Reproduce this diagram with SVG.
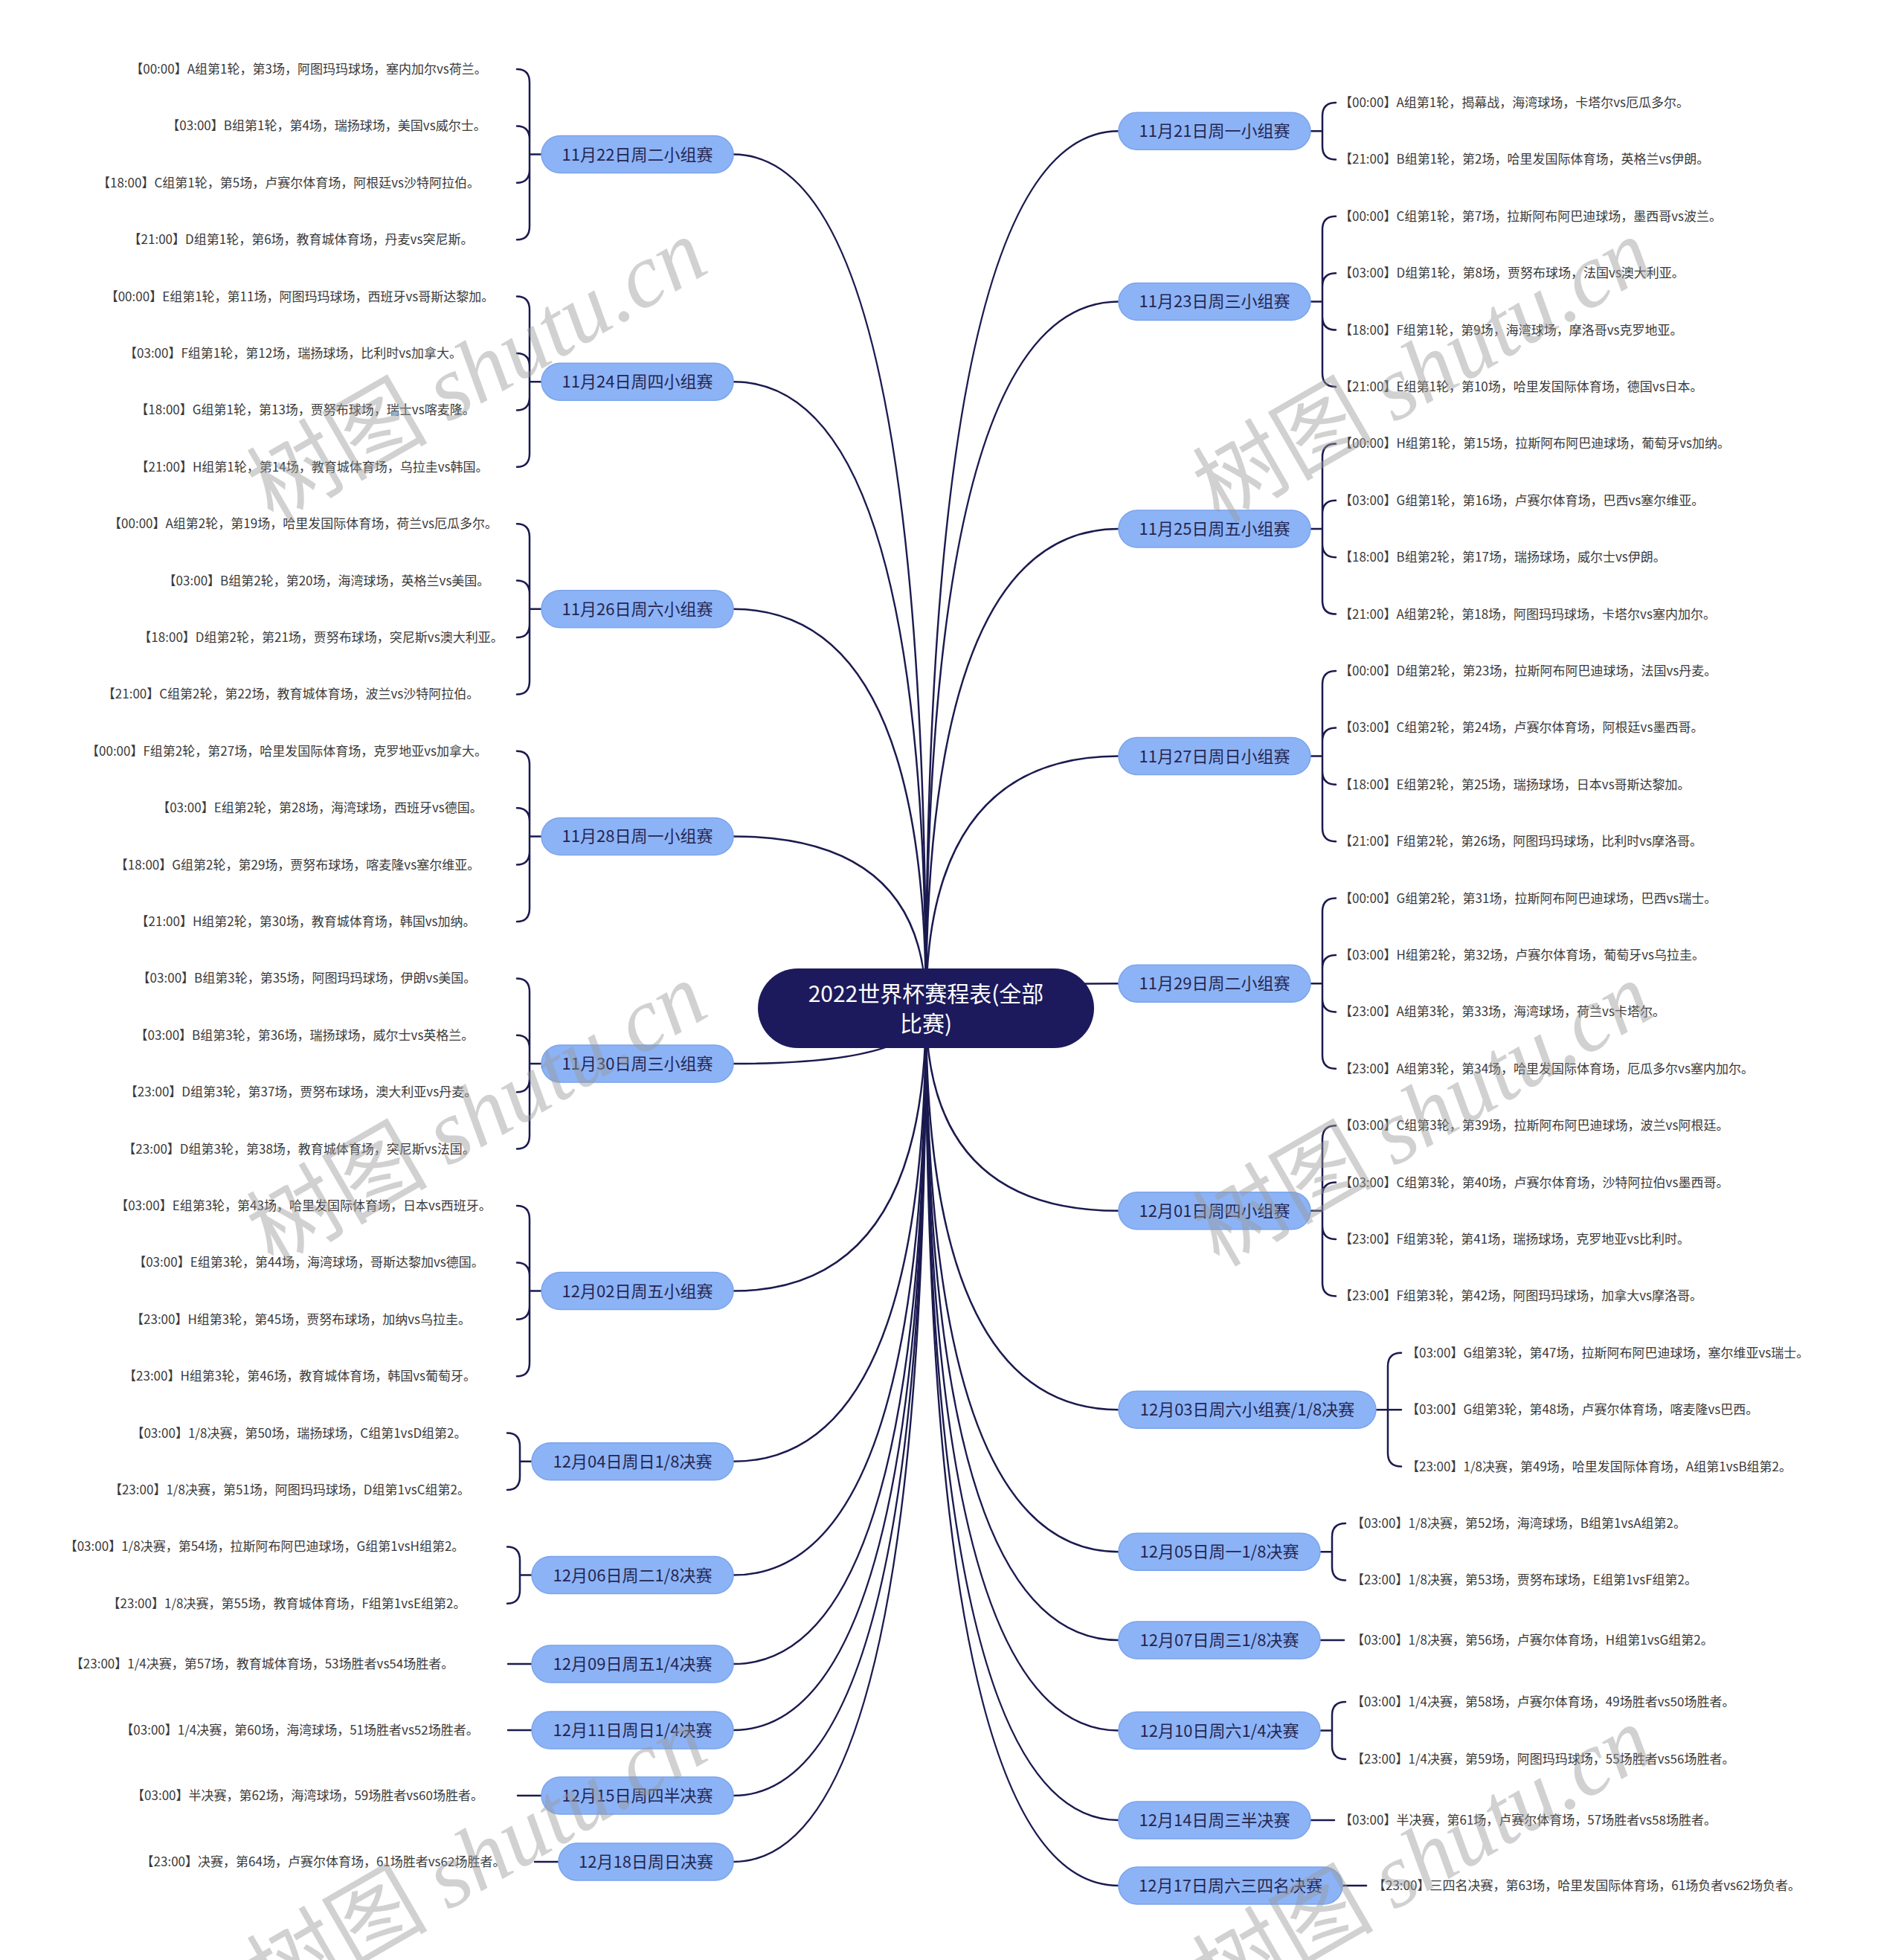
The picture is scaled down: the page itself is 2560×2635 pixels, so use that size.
<svg xmlns="http://www.w3.org/2000/svg" width="2560" height="2635" viewBox="0 0 2560 2635">
<style>
.c{fill:none;stroke:#1b1a4f;stroke-width:2.5;stroke-linecap:round}
.bn rect{fill:#8cb3f6;stroke:#7ba4ec;stroke-width:1.5}
.bn text{font-family:"Noto Sans CJK SC","Noto Sans",sans-serif;font-size:22px;fill:#262650;text-anchor:middle}
.lf text{font-family:"Noto Sans CJK SC","Noto Sans",sans-serif;font-size:17px;fill:#3a3a3a}
.ll text{text-anchor:middle}
.root rect{fill:#1c1a5c}
.root text{font-family:"Noto Sans CJK SC","Noto Sans",sans-serif;font-size:30px;fill:#ffffff;text-anchor:middle}
.wm{font-family:"Noto Sans CJK SC",sans-serif;font-size:122px;fill:#9a9a9a;fill-opacity:0.45;text-anchor:middle}
.wmi{font-family:"Liberation Serif",serif;font-style:italic}
</style>
<rect width="2560" height="2635" fill="#ffffff"/>
<g id="connectors">
<path class="c" d="M1245,1355Q1245,207.6 986,207.6"/>
<path class="c" d="M1245,1355Q1245,513.2 986,513.2"/>
<path class="c" d="M1245,1355Q1245,818.8 986,818.8"/>
<path class="c" d="M1245,1355Q1245,1124.4 986,1124.4"/>
<path class="c" d="M1245,1355Q1245,1430 986,1430"/>
<path class="c" d="M1245,1355Q1245,1735.6 986,1735.6"/>
<path class="c" d="M1245,1355Q1245,1964.8 986,1964.8"/>
<path class="c" d="M1245,1355Q1245,2117.6 986,2117.6"/>
<path class="c" d="M1245,1355Q1245,2237 986,2237"/>
<path class="c" d="M1245,1355Q1245,2326 986,2326"/>
<path class="c" d="M1245,1355Q1245,2414 986,2414"/>
<path class="c" d="M1245,1355Q1245,2503 986,2503"/>
<path class="c" d="M1245,1355Q1245,176.2 1504,176.2"/>
<path class="c" d="M1245,1355Q1245,405.4 1504,405.4"/>
<path class="c" d="M1245,1355Q1245,711 1504,711"/>
<path class="c" d="M1245,1355Q1245,1016.6 1504,1016.6"/>
<path class="c" d="M1245,1355Q1245,1322.2 1504,1322.2"/>
<path class="c" d="M1245,1355Q1245,1627.8 1504,1627.8"/>
<path class="c" d="M1245,1355Q1245,1895.2 1504,1895.2"/>
<path class="c" d="M1245,1355Q1245,2086.2 1504,2086.2"/>
<path class="c" d="M1245,1355Q1245,2205 1504,2205"/>
<path class="c" d="M1245,1355Q1245,2326.5 1504,2326.5"/>
<path class="c" d="M1245,1355Q1245,2447 1504,2447"/>
<path class="c" d="M1245,1355Q1245,2535 1504,2535"/>
<path class="c" d="M728,207.6H712M712,207.6V111Q712,93 695,93M712,207.6V187.4Q712,169.4 695,169.4M712,207.6V227.8Q712,245.8 695,245.8M712,207.6V304.2Q712,322.2 695,322.2"/>
<path class="c" d="M728,513.2H712M712,513.2V416.6Q712,398.6 695,398.6M712,513.2V493Q712,475 695,475M712,513.2V533.4Q712,551.4 695,551.4M712,513.2V609.8Q712,627.8 695,627.8"/>
<path class="c" d="M728,818.8H712M712,818.8V722.2Q712,704.2 695,704.2M712,818.8V798.6Q712,780.6 695,780.6M712,818.8V839Q712,857 695,857M712,818.8V915.4Q712,933.4 695,933.4"/>
<path class="c" d="M728,1124.4H712M712,1124.4V1027.8Q712,1009.8 695,1009.8M712,1124.4V1104.2Q712,1086.2 695,1086.2M712,1124.4V1144.6Q712,1162.6 695,1162.6M712,1124.4V1221Q712,1239 695,1239"/>
<path class="c" d="M728,1430H712M712,1430V1333.4Q712,1315.4 695,1315.4M712,1430V1409.8Q712,1391.8 695,1391.8M712,1430V1450.2Q712,1468.2 695,1468.2M712,1430V1526.6Q712,1544.6 695,1544.6"/>
<path class="c" d="M728,1735.6H712M712,1735.6V1639Q712,1621 695,1621M712,1735.6V1715.4Q712,1697.4 695,1697.4M712,1735.6V1755.8Q712,1773.8 695,1773.8M712,1735.6V1832.2Q712,1850.2 695,1850.2"/>
<path class="c" d="M715,1964.8H699M699,1964.8V1944.6Q699,1926.6 682,1926.6M699,1964.8V1985Q699,2003 682,2003"/>
<path class="c" d="M715,2117.6H699M699,2117.6V2097.4Q699,2079.4 682,2079.4M699,2117.6V2137.8Q699,2155.8 682,2155.8"/>
<path class="c" d="M683,2237H715"/>
<path class="c" d="M683,2326H715"/>
<path class="c" d="M696,2414H728"/>
<path class="c" d="M719,2503H751"/>
<path class="c" d="M1762,176.2H1778M1778,176.2V156Q1778,138 1796,138M1778,176.2V196.4Q1778,214.4 1796,214.4"/>
<path class="c" d="M1762,405.4H1778M1778,405.4V308.8Q1778,290.8 1796,290.8M1778,405.4V385.2Q1778,367.2 1796,367.2M1778,405.4V425.6Q1778,443.6 1796,443.6M1778,405.4V502Q1778,520 1796,520"/>
<path class="c" d="M1762,711H1778M1778,711V614.4Q1778,596.4 1796,596.4M1778,711V690.8Q1778,672.8 1796,672.8M1778,711V731.2Q1778,749.2 1796,749.2M1778,711V807.6Q1778,825.6 1796,825.6"/>
<path class="c" d="M1762,1016.6H1778M1778,1016.6V920Q1778,902 1796,902M1778,1016.6V996.4Q1778,978.4 1796,978.4M1778,1016.6V1036.8Q1778,1054.8 1796,1054.8M1778,1016.6V1113.2Q1778,1131.2 1796,1131.2"/>
<path class="c" d="M1762,1322.2H1778M1778,1322.2V1225.6Q1778,1207.6 1796,1207.6M1778,1322.2V1302Q1778,1284 1796,1284M1778,1322.2V1342.4Q1778,1360.4 1796,1360.4M1778,1322.2V1418.8Q1778,1436.8 1796,1436.8"/>
<path class="c" d="M1762,1627.8H1778M1778,1627.8V1531.2Q1778,1513.2 1796,1513.2M1778,1627.8V1607.6Q1778,1589.6 1796,1589.6M1778,1627.8V1648Q1778,1666 1796,1666M1778,1627.8V1724.4Q1778,1742.4 1796,1742.4"/>
<path class="c" d="M1850,1895.2H1884M1866,1895.2V1836.8Q1866,1818.8 1884,1818.8M1866,1895.2V1953.6Q1866,1971.6 1884,1971.6"/>
<path class="c" d="M1775,2086.2H1791M1791,2086.2V2066Q1791,2048 1809,2048M1791,2086.2V2106.4Q1791,2124.4 1809,2124.4"/>
<path class="c" d="M1775,2205H1807"/>
<path class="c" d="M1775,2326.5H1791M1791,2326.5V2306Q1791,2288 1809,2288M1791,2326.5V2347Q1791,2365 1809,2365"/>
<path class="c" d="M1762,2447H1794"/>
<path class="c" d="M1805,2535H1837"/>
</g>
<g id="root" class="root">
<rect x="1019" y="1302" width="452" height="107" rx="53.5"/>
<text x="1245" y="1347">2022世界杯赛程表(全部</text>
<text x="1245" y="1387">比赛)</text>
</g>
<g id="n-1122" class="bn"><rect x="728" y="182.6" width="258" height="50" rx="25"/><text x="857" y="215.6">11月22日周二小组赛</text></g>
<g id="n-1124" class="bn"><rect x="728" y="488.2" width="258" height="50" rx="25"/><text x="857" y="521.2">11月24日周四小组赛</text></g>
<g id="n-1126" class="bn"><rect x="728" y="793.8" width="258" height="50" rx="25"/><text x="857" y="826.8">11月26日周六小组赛</text></g>
<g id="n-1128" class="bn"><rect x="728" y="1099.4" width="258" height="50" rx="25"/><text x="857" y="1132.4">11月28日周一小组赛</text></g>
<g id="n-1130" class="bn"><rect x="728" y="1405" width="258" height="50" rx="25"/><text x="857" y="1438">11月30日周三小组赛</text></g>
<g id="n-1202" class="bn"><rect x="728" y="1710.6" width="258" height="50" rx="25"/><text x="857" y="1743.6">12月02日周五小组赛</text></g>
<g id="n-1204" class="bn"><rect x="715" y="1939.8" width="271" height="50" rx="25"/><text x="850.5" y="1972.8">12月04日周日1/8决赛</text></g>
<g id="n-1206" class="bn"><rect x="715" y="2092.6" width="271" height="50" rx="25"/><text x="850.5" y="2125.6">12月06日周二1/8决赛</text></g>
<g id="n-1209" class="bn"><rect x="715" y="2212" width="271" height="50" rx="25"/><text x="850.5" y="2245">12月09日周五1/4决赛</text></g>
<g id="n-1211" class="bn"><rect x="715" y="2301" width="271" height="50" rx="25"/><text x="850.5" y="2334">12月11日周日1/4决赛</text></g>
<g id="n-1215" class="bn"><rect x="728" y="2389" width="258" height="50" rx="25"/><text x="857" y="2422">12月15日周四半决赛</text></g>
<g id="n-1218" class="bn"><rect x="751" y="2478" width="235" height="50" rx="25"/><text x="868.5" y="2511">12月18日周日决赛</text></g>
<g id="n-1121" class="bn"><rect x="1504" y="151.2" width="258" height="50" rx="25"/><text x="1633" y="184.2">11月21日周一小组赛</text></g>
<g id="n-1123" class="bn"><rect x="1504" y="380.4" width="258" height="50" rx="25"/><text x="1633" y="413.4">11月23日周三小组赛</text></g>
<g id="n-1125" class="bn"><rect x="1504" y="686" width="258" height="50" rx="25"/><text x="1633" y="719">11月25日周五小组赛</text></g>
<g id="n-1127" class="bn"><rect x="1504" y="991.6" width="258" height="50" rx="25"/><text x="1633" y="1024.6">11月27日周日小组赛</text></g>
<g id="n-1129" class="bn"><rect x="1504" y="1297.2" width="258" height="50" rx="25"/><text x="1633" y="1330.2">11月29日周二小组赛</text></g>
<g id="n-1201" class="bn"><rect x="1504" y="1602.8" width="258" height="50" rx="25"/><text x="1633" y="1635.8">12月01日周四小组赛</text></g>
<g id="n-1203" class="bn"><rect x="1504" y="1870.2" width="346" height="50" rx="25"/><text x="1677" y="1903.2">12月03日周六小组赛/1/8决赛</text></g>
<g id="n-1205" class="bn"><rect x="1504" y="2061.2" width="271" height="50" rx="25"/><text x="1639.5" y="2094.2">12月05日周一1/8决赛</text></g>
<g id="n-1207" class="bn"><rect x="1504" y="2180" width="271" height="50" rx="25"/><text x="1639.5" y="2213">12月07日周三1/8决赛</text></g>
<g id="n-1210" class="bn"><rect x="1504" y="2301.5" width="271" height="50" rx="25"/><text x="1639.5" y="2334.5">12月10日周六1/4决赛</text></g>
<g id="n-1214" class="bn"><rect x="1504" y="2422" width="258" height="50" rx="25"/><text x="1633" y="2455">12月14日周三半决赛</text></g>
<g id="n-1217" class="bn"><rect x="1504" y="2510" width="301" height="50" rx="25"/><text x="1654.5" y="2543">12月17日周六三四名决赛</text></g>
<g class="lf ll">
<g id="m03"><text x="415" y="99">【00:00】A组第1轮，第3场，阿图玛玛球场，塞内加尔vs荷兰。</text></g>
<g id="m04"><text x="439" y="175.4">【03:00】B组第1轮，第4场，瑞扬球场，美国vs威尔士。</text></g>
<g id="m05"><text x="388" y="251.8">【18:00】C组第1轮，第5场，卢赛尔体育场，阿根廷vs沙特阿拉伯。</text></g>
<g id="m06"><text x="404.5" y="328.2">【21:00】D组第1轮，第6场，教育城体育场，丹麦vs突尼斯。</text></g>
<g id="m11"><text x="403" y="404.6">【00:00】E组第1轮，第11场，阿图玛玛球场，西班牙vs哥斯达黎加。</text></g>
<g id="m12"><text x="394" y="481">【03:00】F组第1轮，第12场，瑞扬球场，比利时vs加拿大。</text></g>
<g id="m13"><text x="410.5" y="557.4">【18:00】G组第1轮，第13场，贾努布球场，瑞士vs喀麦隆。</text></g>
<g id="m14"><text x="419.5" y="633.8">【21:00】H组第1轮，第14场，教育城体育场，乌拉圭vs韩国。</text></g>
<g id="m19"><text x="407.5" y="710.2">【00:00】A组第2轮，第19场，哈里发国际体育场，荷兰vs厄瓜多尔。</text></g>
<g id="m20"><text x="439" y="786.6">【03:00】B组第2轮，第20场，海湾球场，英格兰vs美国。</text></g>
<g id="m21"><text x="431.5" y="863">【18:00】D组第2轮，第21场，贾努布球场，突尼斯vs澳大利亚。</text></g>
<g id="m22"><text x="391" y="939.4">【21:00】C组第2轮，第22场，教育城体育场，波兰vs沙特阿拉伯。</text></g>
<g id="m27"><text x="385.5" y="1015.8">【00:00】F组第2轮，第27场，哈里发国际体育场，克罗地亚vs加拿大。</text></g>
<g id="m28"><text x="430" y="1092.2">【03:00】E组第2轮，第28场，海湾球场，西班牙vs德国。</text></g>
<g id="m29"><text x="400" y="1168.6">【18:00】G组第2轮，第29场，贾努布球场，喀麦隆vs塞尔维亚。</text></g>
<g id="m30"><text x="411" y="1245">【21:00】H组第2轮，第30场，教育城体育场，韩国vs加纳。</text></g>
<g id="m35"><text x="412.5" y="1321.4">【03:00】B组第3轮，第35场，阿图玛玛球场，伊朗vs美国。</text></g>
<g id="m36"><text x="409.5" y="1397.8">【03:00】B组第3轮，第36场，瑞扬球场，威尔士vs英格兰。</text></g>
<g id="m37"><text x="404.5" y="1474.2">【23:00】D组第3轮，第37场，贾努布球场，澳大利亚vs丹麦。</text></g>
<g id="m38"><text x="402" y="1550.6">【23:00】D组第3轮，第38场，教育城体育场，突尼斯vs法国。</text></g>
<g id="m43"><text x="408" y="1627">【03:00】E组第3轮，第43场，哈里发国际体育场，日本vs西班牙。</text></g>
<g id="m44"><text x="415" y="1703.4">【03:00】E组第3轮，第44场，海湾球场，哥斯达黎加vs德国。</text></g>
<g id="m45"><text x="404.5" y="1779.8">【23:00】H组第3轮，第45场，贾努布球场，加纳vs乌拉圭。</text></g>
<g id="m46"><text x="403" y="1856.2">【23:00】H组第3轮，第46场，教育城体育场，韩国vs葡萄牙。</text></g>
<g id="m50"><text x="402" y="1932.6">【03:00】1/8决赛，第50场，瑞扬球场，C组第1vsD组第2。</text></g>
<g id="m51"><text x="389.5" y="2009">【23:00】1/8决赛，第51场，阿图玛玛球场，D组第1vsC组第2。</text></g>
<g id="m54"><text x="355.5" y="2085.4">【03:00】1/8决赛，第54场，拉斯阿布阿巴迪球场，G组第1vsH组第2。</text></g>
<g id="m55"><text x="385.5" y="2161.8">【23:00】1/8决赛，第55场，教育城体育场，F组第1vsE组第2。</text></g>
<g id="m57"><text x="352.5" y="2243">【23:00】1/4决赛，第57场，教育城体育场，53场胜者vs54场胜者。</text></g>
<g id="m60"><text x="403" y="2332">【03:00】1/4决赛，第60场，海湾球场，51场胜者vs52场胜者。</text></g>
<g id="m62"><text x="413.5" y="2420">【03:00】半决赛，第62场，海湾球场，59场胜者vs60场胜者。</text></g>
<g id="m64"><text x="434.5" y="2509">【23:00】决赛，第64场，卢赛尔体育场，61场胜者vs62场胜者。</text></g>
</g>
<g class="lf">
<g id="m01"><text x="1801" y="144">【00:00】A组第1轮，揭幕战，海湾球场，卡塔尔vs厄瓜多尔。</text></g>
<g id="m02"><text x="1801" y="220.4">【21:00】B组第1轮，第2场，哈里发国际体育场，英格兰vs伊朗。</text></g>
<g id="m07"><text x="1801" y="296.8">【00:00】C组第1轮，第7场，拉斯阿布阿巴迪球场，墨西哥vs波兰。</text></g>
<g id="m08"><text x="1801" y="373.2">【03:00】D组第1轮，第8场，贾努布球场，法国vs澳大利亚。</text></g>
<g id="m09"><text x="1801" y="449.6">【18:00】F组第1轮，第9场，海湾球场，摩洛哥vs克罗地亚。</text></g>
<g id="m10"><text x="1801" y="526">【21:00】E组第1轮，第10场，哈里发国际体育场，德国vs日本。</text></g>
<g id="m15"><text x="1801" y="602.4">【00:00】H组第1轮，第15场，拉斯阿布阿巴迪球场，葡萄牙vs加纳。</text></g>
<g id="m16"><text x="1801" y="678.8">【03:00】G组第1轮，第16场，卢赛尔体育场，巴西vs塞尔维亚。</text></g>
<g id="m17"><text x="1801" y="755.2">【18:00】B组第2轮，第17场，瑞扬球场，威尔士vs伊朗。</text></g>
<g id="m18"><text x="1801" y="831.6">【21:00】A组第2轮，第18场，阿图玛玛球场，卡塔尔vs塞内加尔。</text></g>
<g id="m23"><text x="1801" y="908">【00:00】D组第2轮，第23场，拉斯阿布阿巴迪球场，法国vs丹麦。</text></g>
<g id="m24"><text x="1801" y="984.4">【03:00】C组第2轮，第24场，卢赛尔体育场，阿根廷vs墨西哥。</text></g>
<g id="m25"><text x="1801" y="1060.8">【18:00】E组第2轮，第25场，瑞扬球场，日本vs哥斯达黎加。</text></g>
<g id="m26"><text x="1801" y="1137.2">【21:00】F组第2轮，第26场，阿图玛玛球场，比利时vs摩洛哥。</text></g>
<g id="m31"><text x="1801" y="1213.6">【00:00】G组第2轮，第31场，拉斯阿布阿巴迪球场，巴西vs瑞士。</text></g>
<g id="m32"><text x="1801" y="1290">【03:00】H组第2轮，第32场，卢赛尔体育场，葡萄牙vs乌拉圭。</text></g>
<g id="m33"><text x="1801" y="1366.4">【23:00】A组第3轮，第33场，海湾球场，荷兰vs卡塔尔。</text></g>
<g id="m34"><text x="1801" y="1442.8">【23:00】A组第3轮，第34场，哈里发国际体育场，厄瓜多尔vs塞内加尔。</text></g>
<g id="m39"><text x="1801" y="1519.2">【03:00】C组第3轮，第39场，拉斯阿布阿巴迪球场，波兰vs阿根廷。</text></g>
<g id="m40"><text x="1801" y="1595.6">【03:00】C组第3轮，第40场，卢赛尔体育场，沙特阿拉伯vs墨西哥。</text></g>
<g id="m41"><text x="1801" y="1672">【23:00】F组第3轮，第41场，瑞扬球场，克罗地亚vs比利时。</text></g>
<g id="m42"><text x="1801" y="1748.4">【23:00】F组第3轮，第42场，阿图玛玛球场，加拿大vs摩洛哥。</text></g>
<g id="m47"><text x="1891" y="1824.8">【03:00】G组第3轮，第47场，拉斯阿布阿巴迪球场，塞尔维亚vs瑞士。</text></g>
<g id="m48"><text x="1891" y="1901.2">【03:00】G组第3轮，第48场，卢赛尔体育场，喀麦隆vs巴西。</text></g>
<g id="m49"><text x="1891" y="1977.6">【23:00】1/8决赛，第49场，哈里发国际体育场，A组第1vsB组第2。</text></g>
<g id="m52"><text x="1817" y="2054">【03:00】1/8决赛，第52场，海湾球场，B组第1vsA组第2。</text></g>
<g id="m53"><text x="1817" y="2130.4">【23:00】1/8决赛，第53场，贾努布球场，E组第1vsF组第2。</text></g>
<g id="m56"><text x="1817" y="2211">【03:00】1/8决赛，第56场，卢赛尔体育场，H组第1vsG组第2。</text></g>
<g id="m58"><text x="1817" y="2294">【03:00】1/4决赛，第58场，卢赛尔体育场，49场胜者vs50场胜者。</text></g>
<g id="m59"><text x="1817" y="2371">【23:00】1/4决赛，第59场，阿图玛玛球场，55场胜者vs56场胜者。</text></g>
<g id="m61"><text x="1801" y="2453">【03:00】半决赛，第61场，卢赛尔体育场，57场胜者vs58场胜者。</text></g>
<g id="m63"><text x="1846" y="2541">【23:00】三四名决赛，第63场，哈里发国际体育场，61场负者vs62场负者。</text></g>
</g>
<g id="watermarks">
<text class="wm" x="662" y="534" transform="rotate(-30 662 534)">树图 <tspan class="wmi">shutu.cn</tspan></text>
<text class="wm" x="1934" y="534" transform="rotate(-30 1934 534)">树图 <tspan class="wmi">shutu.cn</tspan></text>
<text class="wm" x="662" y="1534" transform="rotate(-30 662 1534)">树图 <tspan class="wmi">shutu.cn</tspan></text>
<text class="wm" x="1934" y="1534" transform="rotate(-30 1934 1534)">树图 <tspan class="wmi">shutu.cn</tspan></text>
<text class="wm" x="662" y="2534" transform="rotate(-30 662 2534)">树图 <tspan class="wmi">shutu.cn</tspan></text>
<text class="wm" x="1934" y="2534" transform="rotate(-30 1934 2534)">树图 <tspan class="wmi">shutu.cn</tspan></text>
</g>
</svg>
